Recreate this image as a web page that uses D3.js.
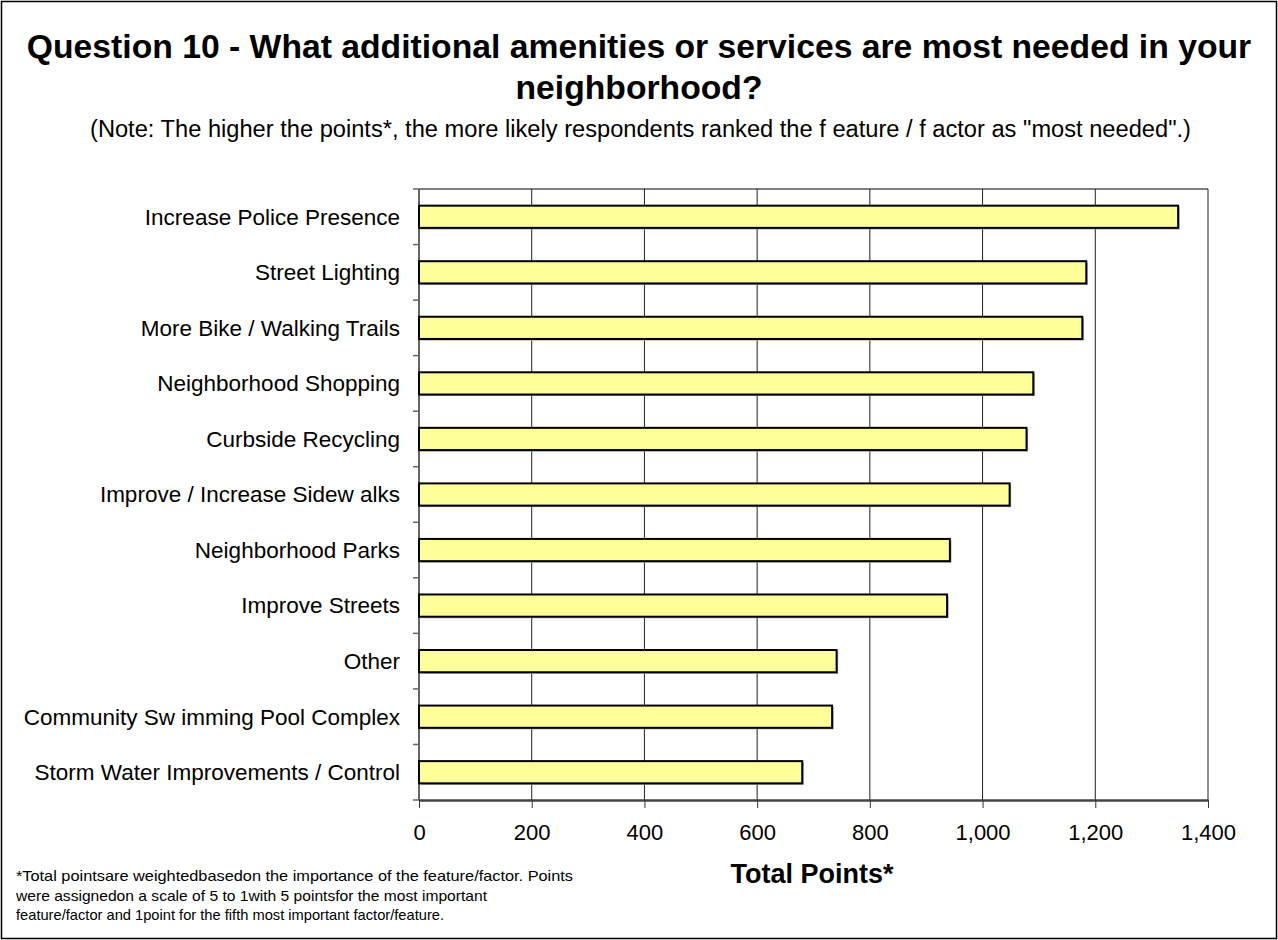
<!DOCTYPE html>
<html>
<head>
<meta charset="utf-8">
<script src="https://cdn.jsdelivr.net/npm/d3@7"></script>
<style>
  body { margin: 0; background: #fff; }
  text { font-family: "Liberation Sans", Arial, sans-serif; fill: #000; }
</style>
</head>
<body>
<div id="chart"></div>
<script>
// values, top bar first
var categories = [
  "Increase Police Presence",
  "Street Lighting",
  "More Bike / Walking Trails",
  "Neighborhood Shopping",
  "Curbside Recycling",
  "Improve / Increase Sidew alks",
  "Neighborhood Parks",
  "Improve Streets",
  "Other",
  "Community Sw imming Pool Complex",
  "Storm Water Improvements / Control"
];
var points = [1347, 1184, 1177, 1090, 1078, 1048, 942, 937, 741, 733, 680];
var xTicks = [0, 200, 400, 600, 800, 1000, 1200, 1400];
var footnote = [
  "*Total pointsare weightedbasedon the importance of the feature/factor. Points",
  "were assignedon a scale of 5 to 1with 5 pointsfor the most important",
  "feature/factor and 1point for the fifth most important factor/feature."
];
var footWidths = [557, 471, 428];

var W = 1278, H = 940;
var margin = {top: 189, right: 70, bottom: 140, left: 419};
var width = W - margin.left - margin.right,
    height = H - margin.top - margin.bottom;

var svg = d3.select("#chart").append("svg")
    .attr("width", W).attr("height", H);

// outer frame
svg.append("rect")
    .attr("x", 1.5).attr("y", 1.5)
    .attr("width", W - 3).attr("height", H - 3)
    .attr("fill", "#fff").attr("stroke", "#000").attr("stroke-width", 1.5);

svg.append("text")
    .attr("x", W / 2).attr("y", 58)
    .attr("text-anchor", "middle")
    .style("font-size", "33.7px").style("font-weight", "bold")
    .text("Question 10 - What additional amenities or services are most needed in your");
svg.append("text")
    .attr("x", W / 2).attr("y", 99)
    .attr("text-anchor", "middle")
    .style("font-size", "33.7px").style("font-weight", "bold")
    .text("neighborhood?");
svg.append("text")
    .attr("x", 90).attr("y", 137)
    .attr("textLength", 1101).attr("lengthAdjust", "spacingAndGlyphs")
    .style("font-size", "23px")
    .text("(Note: The higher the points*, the more likely respondents ranked the f eature / f actor as \"most needed\".)");

var x = d3.scaleLinear().domain([0, 1400]).range([0, width]);
var y = d3.scaleBand().domain(categories).range([0, height]).paddingInner(0.6).paddingOuter(0.3);

var g = svg.append("g")
    .attr("transform", "translate(" + margin.left + "," + margin.top + ")");

// top border of plot
g.append("line")
    .attr("x1", 0).attr("x2", width).attr("y1", 0).attr("y2", 0)
    .attr("stroke", "#000").attr("stroke-width", 1);

// vertical gridlines
g.selectAll(".grid")
    .data(xTicks.slice(1))
    .enter().append("line")
    .attr("class", "grid")
    .attr("x1", function(d) { return x(d); })
    .attr("x2", function(d) { return x(d); })
    .attr("y1", 0).attr("y2", height)
    .attr("stroke", "#222").attr("stroke-width", 1);

// x axis
var xAxis = g.append("g")
    .attr("transform", "translate(0," + height + ")")
    .call(d3.axisBottom(x).tickValues(xTicks).tickSize(8).tickPadding(16)
      .tickFormat(d3.format(",")).tickSizeOuter(0));
xAxis.select(".domain").attr("stroke", "#444").attr("stroke-width", 2.5);
xAxis.selectAll(".tick line").attr("stroke", "#333");
xAxis.selectAll("text")
    .style("font-size", "22px")
    .style("font-family", "'Liberation Sans', Arial, sans-serif")
    .attr("fill", "#000");

// y axis: labels plus small ticks at band boundaries
g.append("line")
    .attr("x1", 0).attr("x2", 0).attr("y1", 0).attr("y2", height)
    .attr("stroke", "#333").attr("stroke-width", 1.5);
var step = y.step();
g.selectAll(".ytick")
    .data(d3.range(categories.length + 1))
    .enter().append("line")
    .attr("x1", -6).attr("x2", 0)
    .attr("y1", function(i) { return i * step; })
    .attr("y2", function(i) { return i * step; })
    .attr("stroke", "#666").attr("stroke-width", 1.5);

g.selectAll(".ylabel")
    .data(categories)
    .enter().append("text")
    .attr("x", -19)
    .attr("y", function(d) { return y(d) + y.bandwidth() / 2; })
    .attr("dy", "0.35em")
    .attr("text-anchor", "end")
    .style("font-size", "22.5px")
    .text(function(d) { return d; });

// bars with a soft grey shadow
var bars = g.selectAll(".bar")
    .data(categories)
    .enter().append("g").attr("class", "bar");
bars.append("rect")
    .attr("x", 1.5)
    .attr("y", function(d) { return y(d) + 1.5; })
    .attr("width", function(d, i) { return x(points[i]); })
    .attr("height", y.bandwidth())
    .attr("fill", "#999");
bars.append("rect")
    .attr("x", 0)
    .attr("y", function(d) { return y(d); })
    .attr("width", function(d, i) { return x(points[i]); })
    .attr("height", y.bandwidth())
    .attr("fill", "#ffff99")
    .attr("stroke", "#000").attr("stroke-width", 2);

svg.append("text")
    .attr("x", 812).attr("y", 883)
    .attr("text-anchor", "middle")
    .style("font-size", "27px").style("font-weight", "bold")
    .text("Total Points*");

svg.selectAll(".foot")
    .data(footnote)
    .enter().append("text")
    .attr("x", 16)
    .attr("y", function(d, i) { return 881 + i * 19.5; })
    .attr("textLength", function(d, i) { return footWidths[i]; })
    .attr("lengthAdjust", "spacingAndGlyphs")
    .style("font-size", "15px")
    .text(function(d) { return d; });
</script>
</body>
</html>
